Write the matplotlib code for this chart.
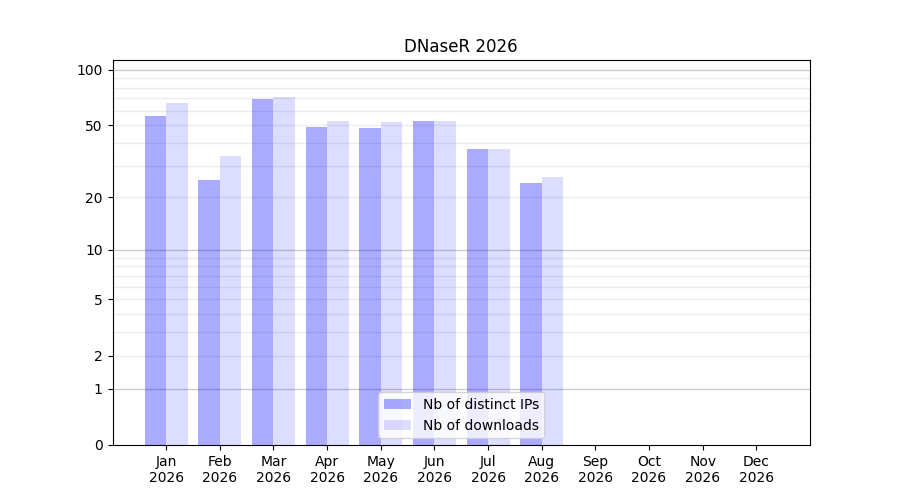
import numpy as np
import matplotlib
matplotlib.use("Agg")
import matplotlib.pyplot as plt

months = ["Jan", "Feb", "Mar", "Apr", "May", "Jun", "Jul", "Aug", "Sep", "Oct", "Nov", "Dec"]
year = "2026"
ips = [56, 25, 69, 49, 48, 53, 37, 24]
downloads = [66, 34, 71, 53, 52, 53, 37, 26]
yticks = [0, 1, 2, 5, 10, 20, 50, 100]
major_grid = [1, 10, 100]
minor_grid = [2, 3, 4, 5, 6, 7, 8, 9, 20, 30, 40, 50, 60, 70, 80, 90]

fig, ax = plt.subplots(figsize=(9, 5), dpi=100)

def fwd(x):
    return np.log10(np.maximum(x, 0) + 1)

def inv(y):
    return 10 ** y - 1

ax.set_yscale("function", functions=(fwd, inv))

x = np.arange(len(ips))
w = 0.4
ax.bar(x, ips, width=-w, align="edge", color="blue", alpha=0.333, label="Nb of distinct IPs")
ax.bar(x, downloads, width=w, align="edge", color="blue", alpha=0.133, label="Nb of downloads")

for v in major_grid:
    ax.axhline(v, color="black", alpha=0.2, lw=1, zorder=0.5)
for v in minor_grid:
    ax.axhline(v, color="black", alpha=0.07, lw=1, zorder=0.5)

ax.set_ylim(0, 112.7)
ax.set_yticks(yticks)
ax.set_yticklabels([str(t) for t in yticks])
ax.yaxis.set_minor_locator(matplotlib.ticker.NullLocator())
ax.set_xlim(-1, 12)
ax.set_xticks(np.arange(len(months)))
ax.set_xticklabels([f"{m}\n{year}" for m in months])
ax.set_title("DNaseR 2026")
ax.legend(loc="lower center")

fig.savefig("out.png", dpi=100)
